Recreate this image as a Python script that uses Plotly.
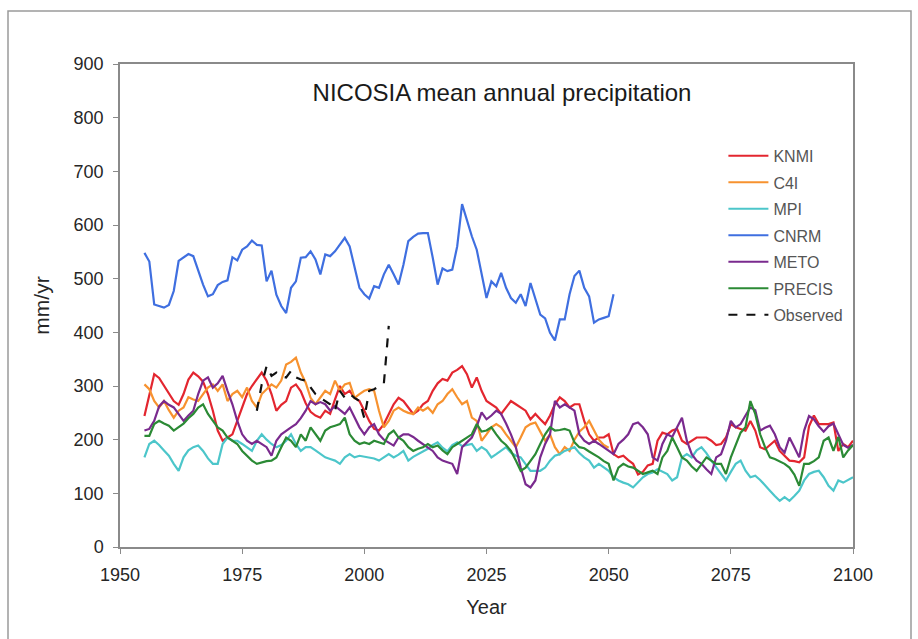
import plotly.graph_objects as go

# ---------------- data ----------------
years_full = list(range(1955, 2101))     # KNMI, MPI, METO, PRECIS
years_c4i = list(range(1955, 2051))      # C4I
years_cnrm = list(range(1955, 2052))     # CNRM
years_obs = list(range(1978, 2006))      # Observed

knmi = [
    244, 285, 322, 315, 300, 285, 272, 265, 285, 312,
    325, 318, 308, 285, 254, 217, 198, 204, 210, 235,
    262, 285, 300, 312, 325, 310, 285, 254, 265, 272,
    297, 303, 290, 268, 252, 245, 241, 254, 248, 275,
    300, 285, 291, 278, 272, 254, 235, 220, 217, 229,
    248, 266, 278, 272, 260, 248, 254, 266, 272, 291,
    305, 313, 310, 325, 330, 337, 322, 297, 316, 291,
    272, 266, 260, 248, 260, 272, 266, 260, 254, 238,
    248, 238, 229, 245, 266, 279, 272, 260, 266, 266,
    235, 210, 198, 204, 204, 210, 173, 167, 170, 162,
    155, 135, 140, 152, 155, 198, 213, 210, 217, 220,
    198, 192, 198, 204, 204, 204, 198, 190, 192, 204,
    229, 223, 220, 217, 235, 217, 186, 182, 190, 198,
    179, 170, 161, 160, 158, 167, 225, 245, 229, 229,
    229, 232, 179, 192, 186, 198,
]

c4i = [
    303, 294, 272, 260, 272, 255, 241, 254, 260, 279,
    275, 272, 285, 297, 303, 291, 303, 272, 285, 291,
    279, 297, 272, 260, 285, 295, 303, 297, 310, 340,
    345, 353, 325, 306, 278, 266, 278, 291, 285, 310,
    291, 303, 306, 278, 285, 291, 294, 291, 254, 223,
    235, 254, 260, 254, 250, 248, 260, 254, 260, 250,
    266, 272, 285, 294, 279, 266, 272, 241, 235, 198,
    210, 223, 229, 223, 210, 198, 186, 204, 223, 229,
    232, 215, 198, 210, 186, 173, 186, 179, 200, 215,
    223, 235, 217, 200, 190, 185,
]

mpi = [
    167, 192, 198, 190, 180, 170, 155, 142, 167, 180,
    186, 189, 179, 165, 155, 155, 192, 204, 198, 198,
    192, 185, 179, 198, 210, 200, 192, 186, 190, 198,
    210, 192, 179, 186, 186, 180, 173, 167, 164, 161,
    155, 167, 173, 167, 170, 168, 167, 165, 161, 167,
    173, 167, 172, 179, 161, 168, 173, 179, 183, 190,
    195, 185, 178, 190, 195, 188, 190, 192, 179, 186,
    180, 167, 173, 180, 186, 176, 170, 167, 155, 142,
    142, 142, 148, 161, 170, 173, 179, 183, 186, 175,
    167, 161, 148, 155, 148, 142, 130, 124, 120, 117,
    111, 120, 130, 136, 139, 145, 140, 136, 124, 130,
    167, 173, 167, 180, 186, 175, 161, 148, 136, 124,
    140, 155, 161, 142, 130, 133, 125, 114, 105, 95,
    86, 93, 86, 95, 105, 124, 136, 140, 142, 130,
    114, 105, 124, 120, 125, 130,
]

cnrm = [
    548, 532, 452, 449, 446, 451, 477, 533, 539, 546,
    542, 515, 489, 467, 471, 488, 494, 497, 540, 534,
    554, 560, 571, 563, 562, 495, 515, 470, 449, 436,
    483, 495, 539, 540, 551, 536, 508, 545, 542, 551,
    564, 576, 560, 523, 483, 471, 463, 486, 483, 508,
    526, 508, 489, 526, 570, 578, 584, 585, 585, 539,
    489, 519, 514, 517, 560, 639, 607, 579, 554, 508,
    464, 495, 486, 511, 483, 464, 455, 471, 449, 492,
    464, 433, 426, 399, 385, 424, 424, 471, 505, 515,
    483, 467, 418, 424, 427, 430, 471,
]

meto = [
    217, 220, 235, 262, 272, 265, 260, 248, 235, 245,
    254, 285, 310, 316, 297, 305, 319, 291, 266, 235,
    210, 198, 192, 198, 192, 186, 170, 198, 210, 217,
    223, 229, 240, 254, 272, 266, 270, 266, 254, 263,
    255, 248, 260, 241, 223, 210, 223, 229, 210, 200,
    195, 189, 204, 210, 210, 205, 198, 192, 186, 179,
    167, 161, 158, 155, 136, 186, 195, 204, 225, 251,
    238, 245, 254, 248, 230, 210, 186, 148, 117, 111,
    124, 167, 192, 210, 272, 260, 266, 260, 254, 210,
    198, 192, 198, 192, 186, 180, 173, 192, 200, 210,
    229, 232, 223, 210, 167, 161, 192, 210, 205, 223,
    241, 198, 173, 161, 155, 145, 136, 167, 173, 198,
    235, 223, 229, 245, 260, 255, 217, 222, 226, 210,
    186, 176, 204, 186, 167, 217, 244, 238, 225, 215,
    225, 230, 210, 190, 185, 190,
]

precis = [
    207, 207, 229, 235, 230, 226, 217, 223, 230, 240,
    248, 260, 266, 248, 235, 223, 217, 204, 198, 192,
    179, 170, 161, 155, 158, 160, 161, 167, 186, 204,
    198, 186, 210, 198, 223, 210, 198, 217, 223, 226,
    229, 241, 210, 198, 192, 195, 192, 198, 195, 192,
    210, 217, 204, 198, 186, 179, 183, 186, 192, 186,
    189, 180, 173, 186, 192, 198, 205, 210, 229, 215,
    217, 223, 210, 198, 190, 179, 161, 142, 148, 161,
    173, 192, 210, 223, 217, 218, 220, 217, 195, 186,
    184, 178, 173, 167, 160, 155, 124, 148, 155, 150,
    148, 142, 136, 139, 142, 136, 167, 179, 204, 186,
    167, 161, 150, 142, 155, 167, 161, 155, 155, 136,
    167, 190, 213, 223, 272, 248, 210, 186, 167, 164,
    160, 155, 148, 135, 114, 155, 155, 160, 167, 198,
    204, 179, 205, 167, 180, 190,
]

observed = [
    254, 303, 337, 319, 325, 318, 316, 328, 316, 312,
    310, 297, 285, 278, 272, 266, 254, 291, 278, 285,
    278, 272, 240, 291, 294, 300, 305, 412,
]

x_ticks = [1950, 1975, 2000, 2025, 2050, 2075, 2100]
y_ticks = [0, 100, 200, 300, 400, 500, 600, 700, 800, 900]

series = [
    ("KNMI", years_full, knmi, "#E3262F", "solid"),
    ("C4I", years_c4i, c4i, "#F7922F", "solid"),
    ("MPI", years_full, mpi, "#4CC6CA", "solid"),
    ("CNRM", years_cnrm, cnrm, "#3F6FE0", "solid"),
    ("METO", years_full, meto, "#7A2A8E", "solid"),
    ("PRECIS", years_full, precis, "#2B8A35", "solid"),
    ("Observed", years_obs, observed, "#111111", "dash"),
]

fig = go.Figure()
for name, xs, ys, col, dash in series:
    fig.add_trace(go.Scatter(
        x=xs, y=ys, name=name, mode="lines",
        line=dict(color=col, width=2.2, dash=dash),
        legendgroup=name,
    ))

FONT = "Liberation Sans, Arial, sans-serif"
axis_font = dict(family=FONT, size=18, color="#262626")

fig.update_layout(
    width=918, height=639,
    margin=dict(l=120, r=65, t=64, b=92),
    paper_bgcolor="white", plot_bgcolor="white",
    title=dict(
        text="NICOSIA mean annual precipitation",
        font=dict(family=FONT, size=24, color="#1a1a1a"),
        x=502 / 918, xanchor="center", xref="container",
        y=1 - 93 / 639, yanchor="middle", yref="container",
    ),
    xaxis=dict(
        range=[1950, 2100], tickvals=x_ticks, ticktext=[str(v) for v in x_ticks],
        showgrid=False, zeroline=False,
        showline=True, linecolor="#8a8a8a", linewidth=1.5, mirror=True,
        ticks="outside", ticklen=5, tickcolor="#8a8a8a",
        tickfont=axis_font, ticklabelstandoff=6,
        title=dict(text="Year", font=dict(family=FONT, size=20, color="#262626"), standoff=16),
    ),
    yaxis=dict(
        range=[0, 900], tickvals=y_ticks,
        showgrid=False, zeroline=False,
        showline=True, linecolor="#8a8a8a", linewidth=1.5, mirror=True,
        ticks="outside", ticklen=5, tickcolor="#8a8a8a",
        tickfont=axis_font, ticklabelstandoff=6,
        title=dict(text="mm/yr", font=dict(family=FONT, size=21, color="#262626"), standoff=18),
    ),
    legend=dict(
        x=0.8232, y=0.845, xanchor="left", yanchor="top",
        font=dict(family=FONT, size=16, color="#555555"),
        bgcolor="rgba(0,0,0,0)", tracegroupgap=2.7, itemwidth=40,
    ),
    shapes=[dict(
        type="rect", xref="paper", yref="paper",
        x0=(8 - 120) / 733, x1=(911 - 120) / 733,
        y0=(547 - 660) / 483, y1=(547 - 11) / 483,
        line=dict(color="#9a9a9a", width=1.5), fillcolor="rgba(0,0,0,0)", layer="below",
    )],
)

fig.write_html("out.html")
